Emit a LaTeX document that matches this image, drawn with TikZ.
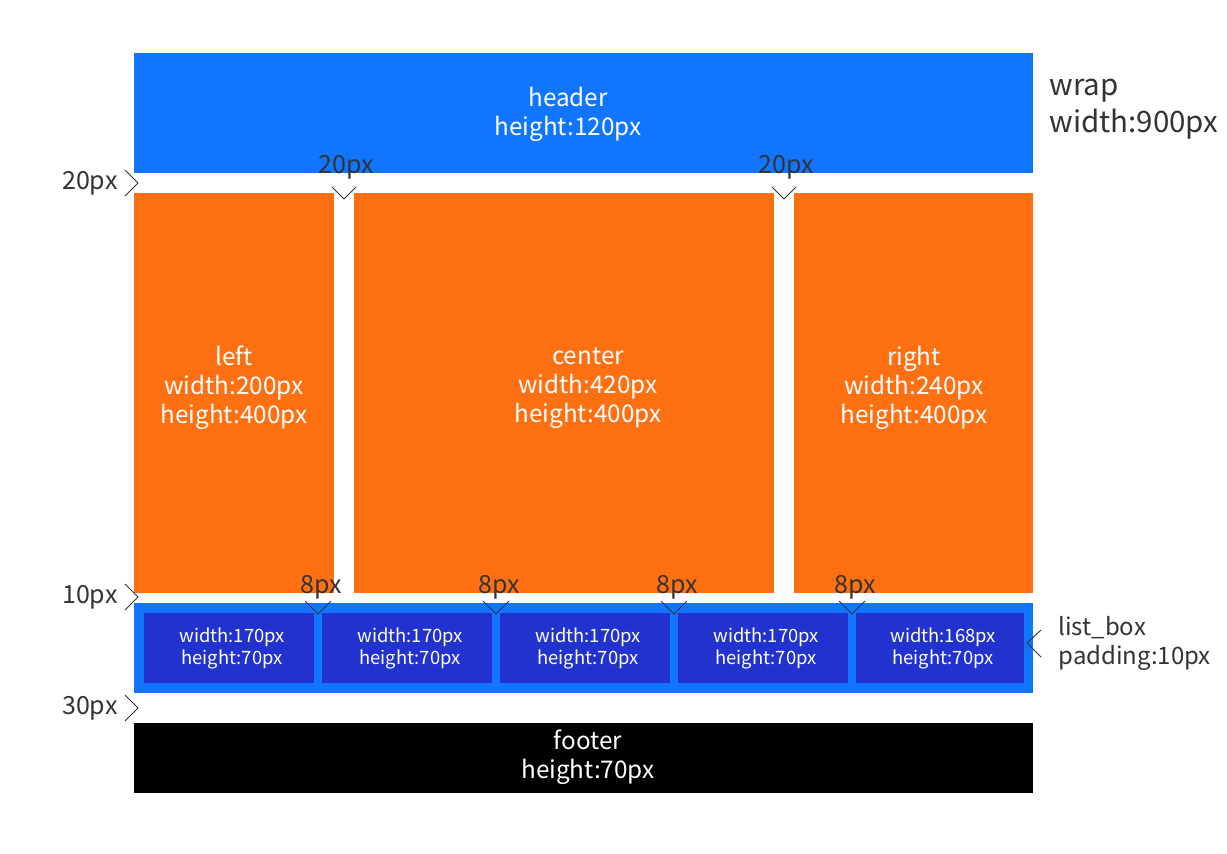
\documentclass[tikz,border=0pt]{standalone}
\usepackage{fontspec}
\setmainfont{Noto Sans CJK KR}
\definecolor{hblue}{RGB}{17,117,255}
\definecolor{orng}{RGB}{255,112,18}
\definecolor{iblue}{RGB}{33,50,206}
\definecolor{note}{RGB}{51,51,51}
\tikzset{
  blk/.style={draw=none, inner sep=0pt, outer sep=0pt, anchor=north west},
  wtxt/.style={text=white, align=center, font=\fontsize{24.3}{29}\selectfont},
  stxt/.style={text=white, align=center, font=\fontsize{18.4}{22}\selectfont},
  ntxt/.style={text=note, font=\fontsize{25}{29}\selectfont},
  chev/.style={draw=note, line width=0.9pt},
}
\begin{document}
\begin{tikzpicture}[x=1pt,y=-1pt]
\useasboundingbox (0,0) rectangle (1227,854);
% blocks
\node[blk, fill=hblue, minimum width=899, minimum height=120] (header) at (134,53) {};
\node[blk, fill=orng, minimum width=200, minimum height=400] (left) at (134,193) {};
\node[blk, fill=orng, minimum width=420, minimum height=400] (center) at (354,193) {};
\node[blk, fill=orng, minimum width=239, minimum height=400] (right) at (794,193) {};
\node[blk, fill=hblue, minimum width=899, minimum height=90] (listbox) at (134,603) {};
\node[blk, fill=iblue, minimum width=170, minimum height=70] (i1) at (144,613) {};
\node[blk, fill=iblue, minimum width=170, minimum height=70] (i2) at (322,613) {};
\node[blk, fill=iblue, minimum width=170, minimum height=70] (i3) at (500,613) {};
\node[blk, fill=iblue, minimum width=170, minimum height=70] (i4) at (678,613) {};
\node[blk, fill=iblue, minimum width=168, minimum height=70] (i5) at (856,613) {};
\node[blk, fill=black, minimum width=899, minimum height=70] (footer) at (134,723) {};
% texts
\node[wtxt] (headerT) at (568,114) {header\\height:120px};
\node[wtxt] (leftT) at (234,388) {left\\width:200px\\height:400px};
\node[wtxt] (centerT) at (588,388) {center\\width:420px\\height:400px};
\node[wtxt] (rightT) at (914,388) {right\\width:240px\\height:400px};
\node[wtxt] (footerT) at (588,757) {footer\\height:70px};
\foreach \n in {i1,i2,i3,i4}{
  \node[stxt] (\n T) at ([xshift=3]\n.center) {width:170px\\height:70px};
}
\node[stxt] (i5T) at ([xshift=3]i5.center) {width:168px\\height:70px};
% right notes
\node[ntxt, anchor=west, align=left, font=\fontsize{29.5}{37}\selectfont] (wrapT) at (1046,109) {wrap\\width:900px};
\node[ntxt, anchor=west, align=left, font=\fontsize{24}{29}\selectfont] (lbT) at (1055,643) {list\_box\\padding:10px};
\coordinate (lbC) at (1027,643);
\draw[chev] ([shift={(14,-13)}]lbC) -- (lbC) -- ([shift={(14,14)}]lbC);
% left gap markers
\foreach \y/\t/\nm in {183/20px/ga, 597/10px/gb, 708/30px/gc}{
  \coordinate (\nm) at (138,\y);
  \draw[chev] ([shift={(-13,-13)}]\nm) -- (\nm) -- ([shift={(-13,13)}]\nm);
  \node[ntxt, anchor=east] (\nm T) at (121,\y) {\t};
}
% top gap markers
\foreach \x/\t/\nm in {344/20px/va, 784/20px/vb}{
  \coordinate (\nm) at (\x,199);
  \draw[chev] ([shift={(-12,-12)}]\nm) -- (\nm) -- ([shift={(12,-12)}]\nm);
  \node[ntxt] (\nm T) at (\x+2,167) {\t};
}
\foreach \x/\nm in {318/ea, 496/eb, 674/ec, 852/ed}{
  \coordinate (\nm) at (\x,614);
  \draw[chev] ([shift={(-13,-13)}]\nm) -- (\nm) -- ([shift={(13,-13)}]\nm);
  \node[ntxt] (\nm T) at (\x+3,587) {8px};
}
\end{tikzpicture}
\end{document}
